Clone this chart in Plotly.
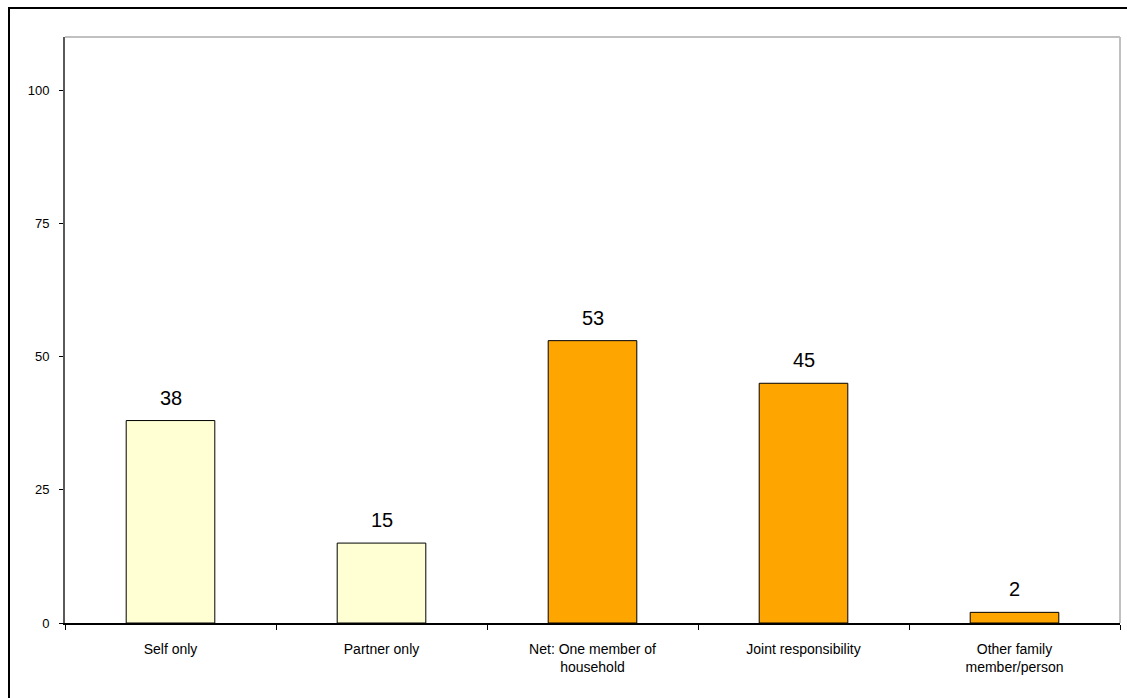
import plotly.graph_objects as go

# Who is responsible: share of respondents (%)
categories = [
    "Self only",
    "Partner only",
    "Net: One member of<br>household",
    "Joint responsibility",
    "Other family<br>member/person",
]
values = [38, 15, 53, 45, 2]
bar_colors = ["#FFFFD3", "#FFFFD3", "#FFA500", "#FFA500", "#FFA500"]

y_ticks = [0, 25, 50, 75, 100]

fig = go.Figure()
fig.add_trace(
    go.Bar(
        x=categories,
        y=values,
        marker=dict(color=bar_colors, line=dict(color="#000000", width=1)),
        width=0.42,
        hoverinfo="x+y",
    )
)

# value labels above each bar
for c, v in zip(categories, values):
    fig.add_annotation(
        x=c, y=v, text=str(v), showarrow=False,
        yanchor="bottom", yshift=10,
        font=dict(family="Liberation Sans, Arial, sans-serif", size=20, color="#000000"),
    )

W, H = 1127, 698
ml, mr, mt, mb = 65, 7, 37, 75
pw, ph = W - ml - mr, H - mt - mb

def px_x(x):
    return (x - ml) / pw

def px_y(y):
    return (H - mb - y) / ph

# outer frame around the whole chart
fig.add_shape(
    type="rect", xref="paper", yref="paper",
    x0=px_x(9), x1=px_x(1135), y0=px_y(705), y1=px_y(8),
    line=dict(color="#000000", width=2), fillcolor="rgba(0,0,0,0)", layer="below",
)
# light grey top and right plot borders
fig.add_shape(
    type="line", xref="paper", yref="paper", x0=0, x1=1, y0=1, y1=1,
    line=dict(color="#C0C0C0", width=2),
)
fig.add_shape(
    type="line", xref="paper", yref="paper", x0=1, x1=1, y0=0, y1=1,
    line=dict(color="#C0C0C0", width=2),
)

fig.update_layout(
    width=W, height=H,
    margin=dict(l=ml, r=mr, t=mt, b=mb, pad=0),
    paper_bgcolor="#FFFFFF",
    plot_bgcolor="#FFFFFF",
    showlegend=False,
    font=dict(family="Liberation Sans, Arial, sans-serif", size=14, color="#000000"),
    xaxis=dict(
        type="category",
        showline=True, linecolor="#000000", linewidth=1.5,
        ticks="outside", tickson="boundaries", ticklen=5, tickcolor="#000000",
        showgrid=False, zeroline=False,
        tickfont=dict(size=14),
        ticklabelstandoff=12,
    ),
    yaxis=dict(
        range=[0, 110],
        tickvals=y_ticks,
        showline=True, linecolor="#5A5A5A", linewidth=2,
        ticks="outside", ticklen=4, tickcolor="#000000",
        showgrid=False, zeroline=False,
        tickfont=dict(size=13),
        ticklabelstandoff=7,
    ),
    bargap=0.58,
)

fig.write_html("out.html")
